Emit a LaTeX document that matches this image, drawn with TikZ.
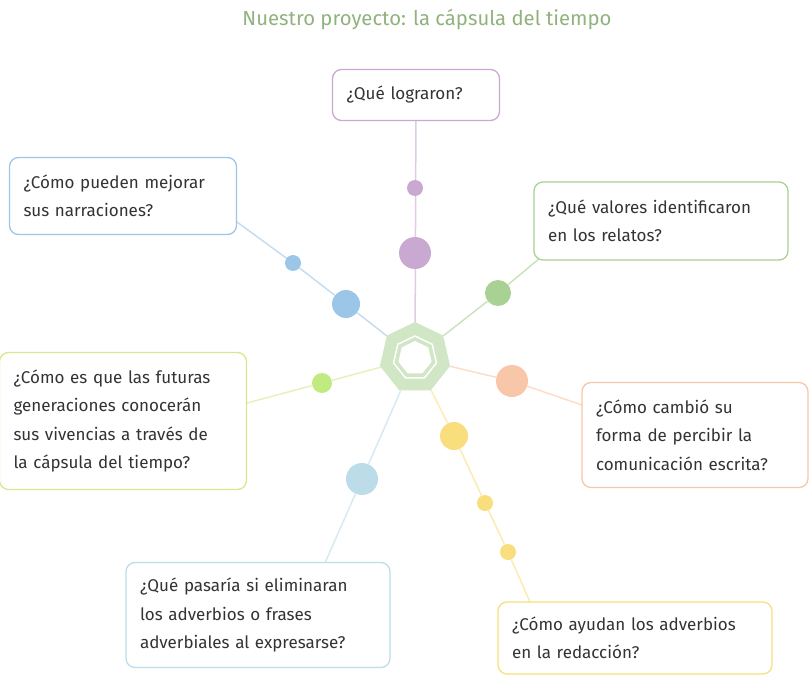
\documentclass[tikz,border=0pt]{standalone}
\usepackage{fontspec}
\setmainfont{Fira Sans}
\usetikzlibrary{shapes.geometric,backgrounds}
\definecolor{cpurple}{HTML}{C9A9D2}
\definecolor{cblue}{HTML}{9CC6E8}
\definecolor{cgreen}{HTML}{A9D193}
\definecolor{clime}{HTML}{D6E88E}
\definecolor{cpeach}{HTML}{F8C6A8}
\definecolor{csky}{HTML}{BCDCEA}
\definecolor{cyellow}{HTML}{F8DE7C}
\definecolor{ctext}{HTML}{333333}
\tikzset{
  pregunta/.style={draw=#1, line width=1.3pt, rounded corners=9pt, fill=white,
    align=left, text=ctext, font=\fontsize{17}{28.5}\selectfont, inner xsep=14pt},
  punto/.style={circle, fill=#1, draw=none, inner sep=0pt},
  rayo/.style={draw=#1!60, line width=1.5pt}
}
\begin{document}
\begin{tikzpicture}[x=1pt, y=-1pt]
  \useasboundingbox (0,0) rectangle (810,676);
  \node[text=cgreen!85!black, font=\fontsize{20.3}{22}\selectfont] (titulo) at (427,20)
    {Nuestro proyecto: la cápsula del tiempo};

  % centre
  \node[regular polygon, regular polygon sides=7, fill=cgreen!55, minimum size=72pt,
    inner sep=0pt] (centro) at (415,358) {};
  \node[regular polygon, regular polygon sides=7, draw=white, line width=1.5pt,
    minimum size=44pt, inner sep=0pt] (anillo) at (415,358) {};
  \node[regular polygon, regular polygon sides=7, fill=white,
    minimum size=34pt, inner sep=0pt] (hueco) at (415,358) {};

  % preguntas
  \node[pregunta=cpurple, minimum width=167pt, minimum height=51pt, text width=139pt] (logro) at (416,95) {¿Qué lograron?};
  \node[pregunta=cblue, minimum width=227pt, minimum height=77pt, text width=199pt] (mejora) at (123,196) {¿Cómo pueden mejorar\\sus narraciones?};
  \node[pregunta=cgreen, minimum width=254pt, minimum height=78pt, text width=226pt] (valor) at (661,221) {¿Qué valores identificaron\\en los relatos?};
  \node[pregunta=clime, minimum width=247pt, minimum height=137pt, text width=219pt] (futuro) at (123,421) {¿Cómo es que las futuras\\generaciones conocerán\\sus vivencias a través de\\la cápsula del tiempo?};
  \node[pregunta=cpeach, minimum width=226pt, minimum height=105pt, text width=198pt] (cambio) at (695,435) {¿Cómo cambió su\\forma de percibir la\\comunicación escrita?};
  \node[pregunta=csky, minimum width=264pt, minimum height=105pt, text width=236pt] (elimina) at (258,615) {¿Qué pasaría si eliminaran\\los adverbios o frases\\adverbiales al expresarse?};
  \node[pregunta=cyellow, minimum width=274pt, minimum height=72pt, text width=246pt] (ayuda) at (635,638) {¿Cómo ayudan los adverbios\\en la redacción?};

  % puntos
  \node[punto=cpurple, minimum size=16pt] (p1) at (415,188) {};
  \node[punto=cpurple, minimum size=32pt] (p2) at (415,253) {};
  \node[punto=cblue, minimum size=16pt] (p3) at (293,263) {};
  \node[punto=cblue, minimum size=28pt] (p4) at (346,304) {};
  \node[punto=cgreen, minimum size=26pt] (p5) at (498,293) {};
  \node[punto=clime!90!green, minimum size=20pt] (p6) at (322,383) {};
  \node[punto=cpeach, minimum size=32pt] (p7) at (512,381) {};
  \node[punto=csky, minimum size=32pt] (p8) at (362,479) {};
  \node[punto=cyellow, minimum size=28pt] (p9) at (454,436) {};
  \node[punto=cyellow, minimum size=16pt] (p10) at (485,503) {};
  \node[punto=cyellow, minimum size=16pt] (p11) at (508,552) {};

  % extremos
  \coordinate (e2) at (237,222);
  \coordinate (e3) at (540,258);
  \coordinate (e4) at (247,403);
  \coordinate (e5) at (582,405);
  \coordinate (e6) at (325,563);
  \coordinate (e7) at (530,602);

  % conectores
  \begin{pgfonlayer}{background}
    \draw[rayo=cpurple] (centro) -- (logro);
    \draw[rayo=cblue] (centro) -- (p4) -- (p3) -- (e2);
    \draw[rayo=cgreen] (centro) -- (p5) -- (e3);
    \draw[rayo=clime] (centro) -- (p6) -- (e4);
    \draw[rayo=cpeach] (centro) -- (p7) -- (e5);
    \draw[rayo=csky] (centro) -- (p8) -- (e6);
    \draw[rayo=cyellow] (centro) -- (p9) -- (p10) -- (p11) -- (e7);
  \end{pgfonlayer}
\end{tikzpicture}
\end{document}
